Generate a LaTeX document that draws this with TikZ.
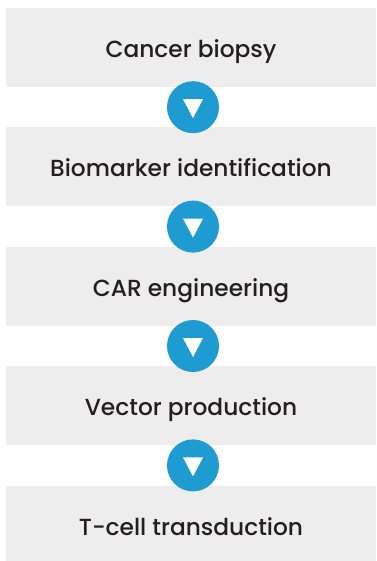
\documentclass[tikz,border=0pt]{standalone}
\usepackage{fontspec}
\setmainfont{Poppins}[UprightFont={* Medium}]
\usepackage{xcolor}
\usetikzlibrary{positioning, calc}

\definecolor{boxgray}{HTML}{ECEDEC}
\definecolor{stepblue}{HTML}{1E9BD0}
\definecolor{textdark}{HTML}{231F20}

\begin{document}
\begin{tikzpicture}[x=1pt,y=-1pt]
	\tikzstyle{stage}=[fill=boxgray,minimum width=370pt,minimum height=79pt,inner sep=0pt,text height=20pt,text depth=0pt,text=textdark,font=\fontsize{23.3}{26}\selectfont]
	\tikzstyle{marker}=[circle,fill=stepblue,minimum size=52pt,inner sep=0pt]
	\useasboundingbox (0,0) rectangle (376,561);
	\node[stage](s1) at (191,47.5) {Cancer biopsy};
	\node[stage,below=40pt of s1](s2) {Biomarker identification};
	\node[stage,below=40pt of s2](s3) {CAR engineering};
	\node[stage,below=40pt of s3](s4) {Vector production};
	\node[stage,below=40pt of s4](s5) {T-cell transduction};
	% blue markers with white triangles between the stages
	\foreach \a/\b in {1/2,2/3,3/4,4/5}{
		\node[marker](m\a) at ($(s\a.south)!0.5!(s\b.north)+(2,0)$) {};
		\fill[white] ($(m\a)+(-10,-8)$) -- ($(m\a)+(10,-8)$) -- ($(m\a)+(0,11)$) -- cycle;
	}
\end{tikzpicture}
\end{document}
